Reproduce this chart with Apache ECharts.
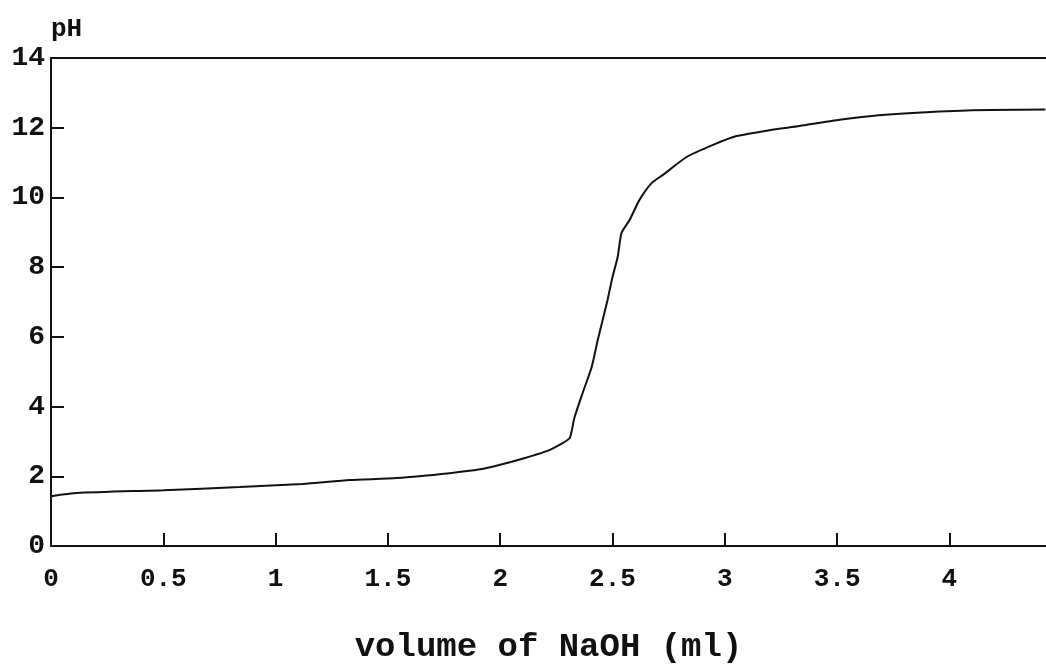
<!DOCTYPE html>
<html>
<head>
<meta charset="utf-8">
<title>pH titration curve</title>
<script src="https://cdn.jsdelivr.net/npm/echarts@6/dist/echarts.min.js"></script>
<style>
  html, body { margin: 0; padding: 0; background: #fff; }
  #chart { width: 1046px; height: 670px; }
</style>
</head>
<body>
<div id="chart"></div>
<script>
var volume = [0, 0.116, 0.5, 0.84, 1.12, 1.33, 1.54, 1.775, 1.91, 2.0, 2.087, 2.207, 2.278, 2.31,
  2.33, 2.367, 2.407, 2.434, 2.456, 2.478, 2.5, 2.523, 2.54, 2.576, 2.62, 2.674, 2.723,
  2.83, 2.945, 3.052, 3.2, 3.333, 3.48, 3.644, 3.835, 4.102, 4.427]
var ph = [1.43, 1.52, 1.6, 1.69, 1.78, 1.89, 1.95, 2.09, 2.2, 2.33, 2.48, 2.72, 2.95, 3.1,
  3.67, 4.39, 5.13, 5.9, 6.48, 7.06, 7.72, 8.29, 8.98, 9.35, 9.93, 10.41, 10.64,
  11.16, 11.5, 11.76, 11.93, 12.05, 12.2, 12.33, 12.42, 12.5, 12.52]
var xTitle = 'volume of NaOH (ml)'
var yTitle = 'pH'

var font = '"Liberation Mono", "DejaVu Sans Mono", monospace'

var chart = echarts.init(document.getElementById('chart'))
chart.setOption({
  animation: false,
  backgroundColor: '#fff',
  grid: {
    left: 51,
    right: 0,
    top: 58,
    bottom: 124
  },
  xAxis: [
    {
      type: 'value',
      min: 0,
      max: 4.43,
      interval: 0.5,
      name: xTitle,
      nameLocation: 'middle',
      nameGap: 84,
      nameTextStyle: {
        color: '#111',
        fontFamily: font,
        fontWeight: 'bold',
        fontSize: 34
      },
      axisLine: { lineStyle: { color: '#111', width: 2 } },
      axisTick: { inside: true, length: 13, lineStyle: { color: '#111', width: 2 } },
      axisLabel: {
        color: '#111',
        fontFamily: font,
        fontWeight: 'bold',
        fontSize: 26,
        margin: 20,
        showMaxLabel: false
      },
      splitLine: { show: false }
    },
    {
      // top border of the frame
      type: 'value',
      position: 'top',
      min: 0,
      max: 4.43,
      axisLine: { show: true, lineStyle: { color: '#111', width: 2 } },
      axisTick: { show: false },
      axisLabel: { show: false },
      splitLine: { show: false }
    }
  ],
  yAxis: {
    type: 'value',
    min: 0,
    max: 14,
    interval: 2,
    name: yTitle,
    nameLocation: 'end',
    nameGap: 16,
    nameTextStyle: {
      color: '#111',
      fontFamily: font,
      fontWeight: 'bold',
      fontSize: 26,
      align: 'left'
    },
    axisLine: { show: true, lineStyle: { color: '#111', width: 2 } },
    axisTick: { inside: true, length: 13, lineStyle: { color: '#111', width: 2 } },
    axisLabel: {
      color: '#111',
      fontFamily: font,
      fontWeight: 'bold',
      fontSize: 28,
      margin: 6
    },
    splitLine: { show: false }
  },
  series: [
    {
      type: 'line',
      data: volume.map(function(v, i) { return [v, ph[i]] }),
      showSymbol: false,
      smooth: 0.2,
      lineStyle: { color: '#111', width: 2 }
    }
  ]
})
</script>
</body>
</html>
